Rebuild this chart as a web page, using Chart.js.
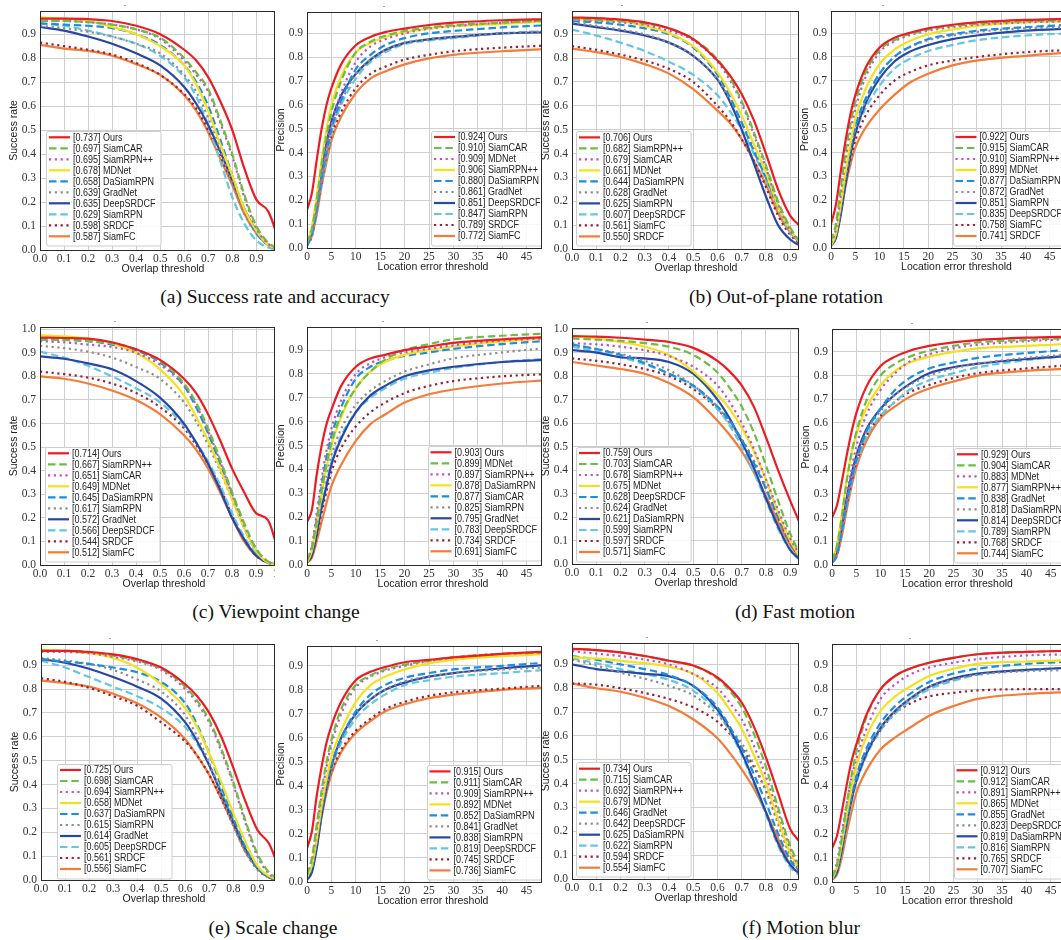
<!DOCTYPE html>
<html><head><meta charset="utf-8">
<script src="https://cdn.jsdelivr.net/npm/chart.js@4.4.1/dist/chart.umd.min.js"></script>
<style>
html,body{margin:0;padding:0;background:#fff;width:1061px;height:940px;overflow:hidden;position:relative}
.panel{position:absolute;overflow:hidden}
.panel canvas{position:absolute;left:0;top:0}
.cap{position:absolute;font-family:"Liberation Serif","Times New Roman",serif;font-size:19.5px;color:#111;white-space:nowrap;transform:translate(-50%,-50%)}
</style></head><body>
<script>
// ---------------- DATA ----------------
const successThresholds = [0,0.1,0.2,0.3,0.4,0.5,0.6,0.65,0.7,0.75,0.8,0.85,0.9,0.95,1.0];
const precisionThresholds = [0,1,2,3,4,5,7,10,13,16,20,25,30,40,50];
const successXTicks = [0,0.1,0.2,0.3,0.4,0.5,0.6,0.7,0.8,0.9,1.0];
const precisionXTicks = [0,5,10,15,20,25,30,35,40,45,50];
const yTicks = [0,0.1,0.2,0.3,0.4,0.5,0.6,0.7,0.8,0.9,1.0];

// (a) Success rate and accuracy
const aSRNames = ['Ours','SiamCAR','SiamRPN++','MDNet','DaSiamRPN','GradNet','DeepSRDCF','SiamRPN','SRDCF','SiamFC'];
const aSRScores = [0.737,0.697,0.695,0.678,0.658,0.639,0.635,0.629,0.598,0.587];
const aSRCurves = [
 [0.965,0.965,0.963,0.955,0.935,0.9,0.835,0.79,0.72,0.62,0.5,0.34,0.21,0.16,0.02],
 [0.955,0.955,0.95,0.94,0.92,0.885,0.8,0.74,0.67,0.54,0.4,0.23,0.1,0.03,0],
 [0.955,0.955,0.95,0.94,0.92,0.88,0.79,0.73,0.66,0.53,0.39,0.22,0.09,0.025,0],
 [0.97,0.965,0.955,0.93,0.9,0.85,0.77,0.69,0.58,0.44,0.31,0.17,0.08,0.02,0],
 [0.945,0.94,0.935,0.925,0.9,0.855,0.77,0.7,0.6,0.46,0.31,0.17,0.07,0.02,0],
 [0.935,0.925,0.91,0.89,0.86,0.82,0.73,0.66,0.55,0.42,0.28,0.15,0.07,0.02,0],
 [0.93,0.915,0.89,0.86,0.82,0.77,0.68,0.61,0.52,0.41,0.29,0.17,0.08,0.02,0],
 [0.945,0.935,0.915,0.89,0.86,0.81,0.72,0.64,0.52,0.37,0.22,0.11,0.04,0.01,0],
 [0.865,0.85,0.835,0.815,0.78,0.73,0.65,0.59,0.5,0.39,0.28,0.16,0.075,0.02,0],
 [0.855,0.84,0.83,0.81,0.775,0.73,0.645,0.58,0.49,0.38,0.27,0.15,0.07,0.02,0]
];
const aPRNames = ['Ours','SiamCAR','MDNet','SiamRPN++','DaSiamRPN','GradNet','DeepSRDCF','SiamRPN','SRDCF','SiamFC'];
const aPRScores = [0.924,0.910,0.909,0.906,0.880,0.861,0.851,0.847,0.789,0.772];
const aPRCurves = [
 [0.16,0.23,0.37,0.5,0.6,0.67,0.77,0.85,0.885,0.905,0.92,0.935,0.945,0.955,0.96],
 [0.02,0.08,0.2,0.35,0.47,0.57,0.7,0.82,0.865,0.89,0.91,0.925,0.935,0.945,0.955],
 [0.02,0.07,0.17,0.3,0.42,0.52,0.65,0.78,0.845,0.875,0.9,0.92,0.93,0.945,0.955],
 [0.02,0.09,0.22,0.37,0.5,0.6,0.72,0.82,0.86,0.885,0.905,0.92,0.93,0.94,0.95],
 [0.01,0.06,0.16,0.29,0.4,0.5,0.62,0.75,0.81,0.85,0.88,0.9,0.91,0.925,0.935],
 [0.01,0.06,0.16,0.28,0.39,0.49,0.61,0.73,0.79,0.83,0.86,0.875,0.885,0.9,0.91],
 [0.02,0.07,0.2,0.33,0.44,0.53,0.64,0.73,0.79,0.83,0.86,0.875,0.885,0.9,0.905],
 [0.01,0.05,0.15,0.27,0.38,0.48,0.6,0.71,0.78,0.82,0.855,0.87,0.88,0.9,0.91],
 [0.01,0.05,0.15,0.27,0.38,0.47,0.57,0.67,0.73,0.76,0.79,0.81,0.825,0.84,0.85],
 [0.01,0.05,0.14,0.26,0.36,0.45,0.55,0.65,0.71,0.74,0.77,0.795,0.81,0.825,0.835]
];

// (b) Out-of-plane rotation
const bSRNames = ['Ours','SiamRPN++','SiamCAR','MDNet','DaSiamRPN','GradNet','SiamRPN','DeepSRDCF','SiamFC','SRDCF'];
const bSRScores = [0.706,0.682,0.679,0.661,0.644,0.628,0.625,0.607,0.561,0.550];
const bSRCurves = [
 [0.97,0.968,0.962,0.95,0.925,0.88,0.79,0.73,0.65,0.54,0.4,0.25,0.14,0.085,0.01],
 [0.965,0.96,0.955,0.945,0.925,0.88,0.795,0.72,0.62,0.49,0.35,0.2,0.09,0.02,0],
 [0.96,0.955,0.95,0.94,0.915,0.875,0.785,0.71,0.61,0.48,0.34,0.19,0.08,0.02,0],
 [0.965,0.96,0.955,0.935,0.905,0.85,0.74,0.66,0.56,0.44,0.32,0.18,0.08,0.02,0],
 [0.955,0.95,0.94,0.925,0.9,0.845,0.73,0.64,0.53,0.41,0.3,0.18,0.08,0.02,0],
 [0.95,0.935,0.92,0.9,0.865,0.81,0.71,0.63,0.53,0.42,0.3,0.17,0.07,0.02,0],
 [0.945,0.93,0.915,0.895,0.865,0.81,0.71,0.62,0.5,0.36,0.22,0.1,0.04,0.01,0],
 [0.92,0.895,0.865,0.83,0.785,0.73,0.645,0.58,0.5,0.4,0.29,0.17,0.07,0.02,0],
 [0.85,0.835,0.815,0.79,0.755,0.7,0.6,0.54,0.46,0.37,0.26,0.14,0.06,0.015,0],
 [0.84,0.825,0.805,0.775,0.735,0.67,0.58,0.53,0.46,0.37,0.27,0.15,0.07,0.02,0]
];
const bPRNames = ['Ours','SiamCAR','SiamRPN++','MDNet','DaSiamRPN','GradNet','SiamRPN','DeepSRDCF','SiamFC','SRDCF'];
const bPRScores = [0.922,0.915,0.910,0.899,0.877,0.872,0.851,0.835,0.758,0.741];
const bPRCurves = [
 [0.1,0.18,0.32,0.45,0.56,0.64,0.75,0.84,0.88,0.9,0.92,0.935,0.945,0.955,0.96],
 [0.03,0.1,0.25,0.4,0.52,0.61,0.73,0.83,0.87,0.895,0.915,0.93,0.94,0.95,0.955],
 [0.02,0.08,0.22,0.37,0.49,0.58,0.71,0.82,0.865,0.89,0.91,0.925,0.935,0.945,0.95],
 [0.01,0.06,0.18,0.32,0.44,0.54,0.66,0.77,0.83,0.865,0.895,0.915,0.93,0.945,0.95],
 [0.01,0.05,0.17,0.3,0.42,0.51,0.62,0.73,0.8,0.84,0.875,0.895,0.91,0.925,0.935],
 [0.01,0.05,0.16,0.29,0.41,0.5,0.61,0.73,0.8,0.84,0.87,0.89,0.905,0.92,0.925],
 [0.01,0.04,0.14,0.27,0.39,0.48,0.6,0.71,0.78,0.82,0.85,0.875,0.89,0.91,0.92],
 [0.01,0.05,0.15,0.28,0.39,0.48,0.58,0.68,0.75,0.79,0.825,0.85,0.87,0.89,0.9],
 [0.01,0.05,0.15,0.27,0.37,0.45,0.55,0.64,0.7,0.735,0.765,0.785,0.8,0.82,0.83],
 [0.01,0.05,0.14,0.26,0.35,0.42,0.5,0.58,0.64,0.69,0.73,0.765,0.785,0.805,0.82]
];

// (c) Viewpoint change
const cSRNames = ['Ours','SiamRPN++','SiamCAR','MDNet','DaSiamRPN','SiamRPN','GradNet','DeepSRDCF','SRDCF','SiamFC'];
const cSRScores = [0.714,0.667,0.651,0.649,0.645,0.617,0.572,0.566,0.544,0.512];
const cSRCurves = [
 [0.965,0.963,0.96,0.945,0.915,0.87,0.79,0.73,0.64,0.53,0.41,0.31,0.22,0.19,0.03],
 [0.955,0.955,0.95,0.94,0.915,0.865,0.77,0.69,0.58,0.45,0.31,0.18,0.07,0.015,0],
 [0.95,0.945,0.935,0.925,0.9,0.85,0.76,0.68,0.57,0.44,0.3,0.17,0.07,0.015,0],
 [0.975,0.97,0.96,0.94,0.9,0.83,0.72,0.63,0.53,0.41,0.28,0.16,0.06,0.01,0],
 [0.96,0.955,0.95,0.935,0.91,0.86,0.76,0.67,0.56,0.43,0.3,0.16,0.06,0.01,0],
 [0.93,0.92,0.905,0.88,0.84,0.79,0.69,0.61,0.51,0.4,0.28,0.16,0.06,0.01,0],
 [0.885,0.875,0.855,0.83,0.78,0.71,0.6,0.52,0.43,0.32,0.2,0.11,0.04,0.01,0],
 [0.905,0.88,0.845,0.8,0.75,0.69,0.59,0.52,0.44,0.34,0.22,0.12,0.05,0.01,0],
 [0.82,0.81,0.795,0.77,0.73,0.67,0.58,0.51,0.43,0.33,0.21,0.11,0.04,0.01,0],
 [0.8,0.79,0.77,0.74,0.7,0.64,0.55,0.49,0.41,0.31,0.2,0.1,0.04,0.01,0]
];
const cPRNames = ['Ours','MDNet','SiamRPN++','DaSiamRPN','SiamCAR','SiamRPN','GradNet','DeepSRDCF','SRDCF','SiamFC'];
const cPRScores = [0.903,0.899,0.897,0.878,0.877,0.825,0.795,0.783,0.734,0.691];
const cPRCurves = [
 [0.18,0.23,0.38,0.5,0.59,0.65,0.75,0.83,0.865,0.88,0.9,0.915,0.93,0.945,0.955],
 [0.02,0.07,0.18,0.31,0.42,0.51,0.63,0.74,0.81,0.86,0.9,0.925,0.945,0.96,0.97],
 [0.02,0.08,0.22,0.36,0.48,0.57,0.69,0.8,0.845,0.87,0.89,0.905,0.92,0.94,0.95],
 [0.01,0.06,0.17,0.3,0.41,0.5,0.62,0.74,0.81,0.85,0.88,0.9,0.915,0.935,0.95],
 [0.02,0.07,0.19,0.33,0.45,0.54,0.66,0.78,0.83,0.855,0.875,0.89,0.905,0.925,0.94],
 [0.01,0.06,0.16,0.28,0.38,0.46,0.57,0.67,0.73,0.77,0.81,0.84,0.865,0.89,0.91],
 [0.01,0.04,0.13,0.24,0.33,0.42,0.53,0.64,0.71,0.75,0.79,0.815,0.83,0.85,0.86],
 [0.01,0.05,0.14,0.25,0.34,0.43,0.54,0.64,0.7,0.74,0.78,0.805,0.825,0.85,0.865],
 [0.01,0.04,0.12,0.22,0.31,0.39,0.49,0.58,0.64,0.68,0.72,0.75,0.77,0.79,0.8],
 [0.01,0.03,0.1,0.18,0.26,0.33,0.42,0.52,0.59,0.63,0.68,0.715,0.735,0.76,0.775]
];

// (d) Fast motion
const dSRNames = ['Ours','SiamCAR','SiamRPN++','MDNet','DeepSRDCF','GradNet','DaSiamRPN','SiamRPN','SRDCF','SiamFC'];
const dSRScores = [0.759,0.703,0.678,0.675,0.628,0.624,0.621,0.599,0.597,0.571];
const dSRCurves = [
 [0.97,0.968,0.963,0.955,0.945,0.92,0.865,0.82,0.76,0.67,0.54,0.4,0.27,0.15,0.03],
 [0.96,0.955,0.95,0.94,0.925,0.89,0.815,0.75,0.67,0.56,0.42,0.27,0.13,0.03,0],
 [0.94,0.935,0.925,0.91,0.885,0.84,0.76,0.69,0.6,0.49,0.36,0.23,0.11,0.03,0],
 [0.97,0.96,0.945,0.925,0.89,0.82,0.72,0.66,0.58,0.48,0.36,0.22,0.1,0.02,0],
 [0.935,0.915,0.89,0.855,0.81,0.76,0.67,0.61,0.53,0.43,0.32,0.2,0.09,0.02,0],
 [0.93,0.915,0.895,0.865,0.825,0.76,0.67,0.6,0.53,0.44,0.33,0.21,0.1,0.02,0],
 [0.91,0.9,0.88,0.875,0.86,0.81,0.7,0.62,0.52,0.41,0.28,0.16,0.06,0.015,0],
 [0.925,0.905,0.88,0.85,0.81,0.755,0.66,0.59,0.5,0.39,0.27,0.15,0.06,0.01,0],
 [0.875,0.865,0.85,0.83,0.8,0.745,0.66,0.6,0.53,0.44,0.32,0.2,0.09,0.02,0],
 [0.86,0.845,0.83,0.81,0.77,0.71,0.61,0.55,0.48,0.39,0.29,0.18,0.08,0.02,0]
];
const dPRNames = ['Ours','SiamCAR','MDNet','SiamRPN++','GradNet','DaSiamRPN','DeepSRDCF','SiamRPN','SRDCF','SiamFC'];
const dPRScores = [0.929,0.904,0.883,0.877,0.838,0.818,0.814,0.789,0.768,0.744];
const dPRCurves = [
 [0.2,0.25,0.35,0.46,0.56,0.64,0.75,0.84,0.88,0.905,0.925,0.94,0.95,0.96,0.965],
 [0.02,0.08,0.2,0.35,0.47,0.56,0.69,0.8,0.85,0.88,0.905,0.925,0.94,0.95,0.96],
 [0.01,0.06,0.16,0.29,0.4,0.5,0.63,0.74,0.81,0.86,0.89,0.915,0.93,0.945,0.955],
 [0.02,0.08,0.21,0.36,0.47,0.55,0.66,0.76,0.82,0.855,0.88,0.9,0.915,0.925,0.935],
 [0.01,0.04,0.14,0.26,0.36,0.44,0.56,0.66,0.74,0.79,0.83,0.855,0.875,0.895,0.91],
 [0.01,0.05,0.15,0.27,0.37,0.45,0.56,0.65,0.72,0.76,0.8,0.83,0.85,0.875,0.89],
 [0.02,0.06,0.16,0.28,0.38,0.46,0.57,0.66,0.72,0.765,0.81,0.835,0.85,0.87,0.885],
 [0.01,0.04,0.13,0.25,0.35,0.43,0.54,0.63,0.69,0.74,0.78,0.81,0.835,0.865,0.885],
 [0.01,0.04,0.14,0.25,0.35,0.43,0.54,0.63,0.69,0.73,0.76,0.79,0.81,0.83,0.845],
 [0.01,0.04,0.12,0.23,0.33,0.41,0.52,0.62,0.67,0.71,0.745,0.775,0.8,0.82,0.83]
];

// (e) Scale change
const eSRNames = ['Ours','SiamCAR','SiamRPN++','MDNet','DaSiamRPN','SiamRPN','GradNet','DeepSRDCF','SRDCF','SiamFC'];
const eSRScores = [0.725,0.698,0.694,0.658,0.637,0.615,0.614,0.605,0.561,0.556];
const eSRCurves = [
 [0.96,0.96,0.955,0.945,0.925,0.89,0.82,0.77,0.7,0.6,0.47,0.33,0.21,0.15,0.02],
 [0.96,0.96,0.955,0.94,0.92,0.885,0.81,0.75,0.67,0.55,0.41,0.25,0.11,0.03,0],
 [0.955,0.955,0.95,0.935,0.915,0.88,0.8,0.74,0.66,0.54,0.4,0.24,0.1,0.025,0],
 [0.965,0.96,0.95,0.93,0.89,0.82,0.72,0.64,0.53,0.41,0.28,0.16,0.06,0.015,0],
 [0.925,0.915,0.905,0.89,0.87,0.83,0.74,0.65,0.53,0.39,0.26,0.14,0.05,0.01,0],
 [0.93,0.92,0.905,0.88,0.84,0.79,0.69,0.6,0.49,0.36,0.23,0.12,0.045,0.01,0],
 [0.925,0.91,0.885,0.85,0.81,0.76,0.66,0.58,0.48,0.36,0.24,0.13,0.05,0.01,0],
 [0.92,0.89,0.85,0.81,0.77,0.72,0.64,0.57,0.48,0.37,0.25,0.13,0.05,0.01,0],
 [0.845,0.83,0.805,0.77,0.73,0.66,0.58,0.52,0.44,0.34,0.23,0.12,0.045,0.01,0],
 [0.835,0.825,0.81,0.78,0.74,0.68,0.59,0.52,0.44,0.34,0.23,0.12,0.05,0.01,0]
];
const ePRNames = ['Ours','SiamCAR','SiamRPN++','MDNet','DaSiamRPN','GradNet','SiamRPN','DeepSRDCF','SRDCF','SiamFC'];
const ePRScores = [0.915,0.911,0.909,0.892,0.852,0.841,0.838,0.819,0.745,0.736];
const ePRCurves = [
 [0.14,0.21,0.36,0.48,0.58,0.65,0.75,0.84,0.875,0.895,0.915,0.925,0.935,0.95,0.96],
 [0.03,0.1,0.24,0.38,0.5,0.59,0.72,0.82,0.86,0.885,0.905,0.92,0.935,0.95,0.955],
 [0.03,0.09,0.22,0.36,0.48,0.57,0.7,0.81,0.855,0.88,0.9,0.92,0.935,0.95,0.955],
 [0.02,0.07,0.18,0.32,0.43,0.52,0.63,0.75,0.82,0.855,0.885,0.91,0.925,0.94,0.95],
 [0.02,0.06,0.17,0.3,0.41,0.49,0.6,0.71,0.78,0.82,0.85,0.87,0.885,0.9,0.915],
 [0.02,0.06,0.17,0.3,0.4,0.48,0.59,0.7,0.76,0.8,0.835,0.855,0.87,0.885,0.895],
 [0.01,0.04,0.14,0.28,0.39,0.48,0.6,0.7,0.76,0.8,0.83,0.855,0.87,0.89,0.905],
 [0.01,0.05,0.15,0.28,0.39,0.47,0.58,0.68,0.74,0.78,0.82,0.84,0.855,0.87,0.885],
 [0.02,0.06,0.16,0.29,0.39,0.46,0.55,0.63,0.68,0.72,0.75,0.775,0.79,0.805,0.82],
 [0.01,0.05,0.15,0.27,0.37,0.45,0.54,0.62,0.67,0.71,0.74,0.765,0.78,0.8,0.81]
];

// (f) Motion blur
const fSRNames = ['Ours','SiamCAR','SiamRPN++','MDNet','GradNet','DeepSRDCF','DaSiamRPN','SiamRPN','SRDCF','SiamFC'];
const fSRScores = [0.734,0.715,0.692,0.679,0.646,0.642,0.625,0.622,0.594,0.554];
const fSRCurves = [
 [0.965,0.96,0.95,0.935,0.915,0.895,0.845,0.8,0.74,0.64,0.51,0.36,0.21,0.14,0.02],
 [0.965,0.96,0.95,0.935,0.915,0.895,0.84,0.79,0.72,0.61,0.47,0.3,0.14,0.04,0],
 [0.955,0.945,0.935,0.92,0.9,0.86,0.8,0.74,0.67,0.56,0.43,0.28,0.13,0.03,0],
 [0.93,0.925,0.915,0.905,0.89,0.86,0.78,0.71,0.63,0.52,0.4,0.25,0.11,0.03,0],
 [0.935,0.92,0.9,0.88,0.855,0.81,0.72,0.64,0.55,0.44,0.32,0.19,0.08,0.02,0],
 [0.92,0.895,0.865,0.84,0.81,0.77,0.69,0.63,0.57,0.48,0.37,0.23,0.1,0.025,0],
 [0.9,0.88,0.87,0.86,0.85,0.81,0.71,0.63,0.53,0.41,0.28,0.15,0.06,0.015,0],
 [0.925,0.905,0.88,0.86,0.835,0.79,0.7,0.62,0.52,0.4,0.27,0.14,0.05,0.01,0],
 [0.82,0.815,0.8,0.78,0.755,0.72,0.66,0.61,0.55,0.47,0.37,0.24,0.1,0.02,0],
 [0.82,0.8,0.785,0.76,0.725,0.67,0.59,0.53,0.46,0.38,0.28,0.17,0.06,0.015,0]
];
const fPRNames = ['Ours','SiamCAR','SiamRPN++','MDNet','GradNet','DeepSRDCF','DaSiamRPN','SiamRPN','SRDCF','SiamFC'];
const fPRScores = [0.912,0.912,0.891,0.865,0.855,0.823,0.819,0.816,0.765,0.707];
const fPRCurves = [
 [0.14,0.19,0.29,0.4,0.5,0.57,0.69,0.8,0.855,0.885,0.91,0.93,0.945,0.955,0.96],
 [0.02,0.07,0.18,0.32,0.44,0.54,0.68,0.8,0.855,0.885,0.91,0.93,0.945,0.955,0.96],
 [0.02,0.08,0.2,0.32,0.43,0.51,0.63,0.76,0.82,0.86,0.89,0.91,0.925,0.94,0.945],
 [0.01,0.06,0.16,0.28,0.39,0.48,0.6,0.71,0.77,0.81,0.855,0.885,0.905,0.915,0.92],
 [0.01,0.05,0.15,0.26,0.36,0.44,0.55,0.66,0.73,0.78,0.83,0.865,0.885,0.905,0.915],
 [0.01,0.05,0.14,0.25,0.35,0.43,0.54,0.64,0.71,0.76,0.81,0.84,0.86,0.875,0.88],
 [0.01,0.04,0.13,0.24,0.34,0.42,0.53,0.64,0.71,0.76,0.81,0.845,0.865,0.88,0.89],
 [0.01,0.04,0.12,0.23,0.33,0.41,0.52,0.63,0.7,0.75,0.8,0.835,0.86,0.88,0.89],
 [0.01,0.05,0.14,0.25,0.34,0.42,0.53,0.63,0.7,0.74,0.77,0.785,0.795,0.8,0.8],
 [0.01,0.03,0.1,0.2,0.29,0.37,0.46,0.55,0.6,0.64,0.69,0.73,0.76,0.78,0.79]
];

const captions = ['(a) Success rate and accuracy','(b) Out-of-plane rotation','(c) Viewpoint change','(d) Fast motion','(e) Scale change','(f) Motion blur'];

// ---------------- STYLE (by legend rank) ----------------
const rankColors = ['#ec1c24','#6cbd45','#c24fc6','#f3e21b','#1b8ee0','#8d8d8d','#2747a6','#62c6e4','#9e1f33','#f47b38'];
const DASH = [7.5,3.8], DOT = [2.2,3.6];
const rankDash = [[],DASH,DOT,[],DASH,DOT,[],DASH,DOT,[]];
const LW = 2.2;

// ---------------- LAYOUT ----------------
// ppu = pixels spanned by the full range (1.0 for success, 50 for precision)
const panels = [
 {kind:'s',names:aSRNames,scores:aSRScores,curves:aSRCurves,L:40,T:10,B:250,xmax:0.99,ymax:0.997,ppu:240,crop:275,legX:6,legB:112.7,dot:85},
 {kind:'p',names:aPRNames,scores:aPRScores,curves:aPRCurves,L:307,T:11,B:248,xmax:50,ymax:0.99,ppu:243.8,crop:542,legX:124,legB:111,dot:77},
 {kind:'s',names:bSRNames,scores:bSRScores,curves:bSRCurves,L:572,T:10,B:249,xmax:0.99,ymax:0.998,ppu:242.6,crop:799,legX:4,legB:111.6,dot:50},
 {kind:'p',names:bPRNames,scores:bPRScores,curves:bPRCurves,L:831,T:10,B:248,xmax:50,ymax:0.993,ppu:243,crop:1061,legX:121.5,legB:111,dot:52},
 {kind:'s',names:cSRNames,scores:cSRScores,curves:cSRCurves,L:40,T:326,B:565,xmax:1.0,ymax:1.01,ppu:240,crop:275,legX:5,legB:111.7,dot:75},
 {kind:'p',names:cPRNames,scores:cPRScores,curves:cPRCurves,L:307,T:326,B:565,xmax:50,ymax:0.997,ppu:243.8,crop:542,legX:120.5,legB:112.7,dot:76},
 {kind:'s',names:dSRNames,scores:dSRScores,curves:dSRCurves,L:572,T:327,B:564,xmax:0.99,ymax:1.005,ppu:242.6,crop:799,legX:4,legB:111,dot:75},
 {kind:'p',names:dPRNames,scores:dPRScores,curves:dPRCurves,L:832,T:328,B:565,xmax:50,ymax:0.997,ppu:243,crop:1061,legX:122,legB:110.7,dot:80},
 {kind:'s',names:eSRNames,scores:eSRScores,curves:eSRCurves,L:41,T:643,B:880,xmax:0.99,ymax:0.989,ppu:240,crop:275,legX:16,legB:110,dot:69},
 {kind:'p',names:ePRNames,scores:ePRScores,curves:ePRCurves,L:307,T:645,B:882,xmax:50,ymax:0.983,ppu:243.8,crop:542,legX:119.5,legB:110.6,dot:70},
 {kind:'s',names:fSRNames,scores:fSRScores,curves:fSRCurves,L:572,T:642,B:879,xmax:0.99,ymax:0.99,ppu:242.6,crop:799,legX:4,legB:110.3,dot:75},
 {kind:'p',names:fPRNames,scores:fPRScores,curves:fPRCurves,L:832,T:643,B:882,xmax:50,ymax:0.988,ppu:243,crop:1061,legX:121.5,legB:111.7,dot:78}
];
const capPos = [[275,297],[786,297],[276,612],[795,612],[273,928],[801,928]];

const TICK_FONT = {family:'"Liberation Serif","Times New Roman",serif', size:11.5};
const LEG_FONT = '10px "Liberation Sans", Arial, sans-serif';
const TITLE_FONT = '10.5px "Liberation Sans", Arial, sans-serif';

function drawLegend(ctx, a, p) {
  ctx.save();
  ctx.beginPath(); ctx.rect(a.left, a.top, a.right - a.left, a.bottom - a.top); ctx.clip();
  ctx.font = LEG_FONT;
  const sx = 0.9, step = 11;
  const labels = p.names.map((n, i) => '[' + p.scores[i].toFixed(3) + '] ' + n);
  const tw = Math.max(...labels.map(l => ctx.measureText(l).width)) * sx;
  const bx = a.left + p.legX, firstY = a.bottom - p.legB;
  const by = firstY - 6.5, bh = step * 9 + 15.5, bw = 27 + tw + 5;
  ctx.fillStyle = 'rgba(255,255,255,0.85)';
  ctx.strokeStyle = '#cccccc'; ctx.lineWidth = 1;
  ctx.beginPath();
  if (ctx.roundRect) ctx.roundRect(Math.round(bx) + 0.5, Math.round(by) + 0.5, bw, bh, 2); else ctx.rect(Math.round(bx) + 0.5, Math.round(by) + 0.5, bw, bh);
  ctx.fill(); ctx.stroke();
  labels.forEach((lab, i) => {
    const y = firstY + i * step;
    ctx.save();
    ctx.strokeStyle = rankColors[i]; ctx.lineWidth = LW; ctx.setLineDash(rankDash[i]);
    ctx.beginPath(); ctx.moveTo(bx + 3, y); ctx.lineTo(bx + 24, y); ctx.stroke();
    ctx.restore();
    ctx.save();
    ctx.fillStyle = '#222'; ctx.textBaseline = 'middle'; ctx.textAlign = 'left';
    ctx.translate(bx + 27, y + 0.5); ctx.scale(sx, 1);
    ctx.fillText(lab, 0, 0);
    ctx.restore();
  });
  ctx.restore();
}

const panelPlugin = {
  id: 'panelDeco',
  afterDraw(chart) {
    const p = chart.$panel; const ctx = chart.ctx; const a = chart.chartArea;
    drawLegend(ctx, a, p);
    ctx.save();
    ctx.strokeStyle = '#2a2a2a'; ctx.lineWidth = 1;
    ctx.strokeRect(Math.round(a.left) + 0.5, Math.round(a.top) + 0.5, Math.round(a.right - a.left), Math.round(a.bottom - a.top));
    // edge of the cropped figure
    const cl = p.L - 40;
    if (p.crop < 1061 && p.crop - cl < chart.width) {
      const ex = p.crop - cl - 0.5;
      ctx.beginPath(); ctx.moveTo(ex, Math.round(a.top)); ctx.lineTo(ex, Math.round(a.bottom) + 1); ctx.stroke();
    }
    ctx.fillStyle = '#222'; ctx.font = TITLE_FONT; ctx.textAlign = 'center'; ctx.textBaseline = 'middle';
    ctx.fillText(p.kind === 's' ? 'Overlap threshold' : 'Location error threshold', (a.left + a.right) / 2 + 4, a.bottom + 19);
    ctx.fillStyle = '#333'; ctx.font = '9px "Liberation Sans", Arial, sans-serif';
    ctx.fillText('.', a.left + p.dot, a.top - 7);
    ctx.fillStyle = '#222'; ctx.font = TITLE_FONT;
    ctx.translate(a.left - 25.5, (a.top + a.bottom) / 2); ctx.rotate(-Math.PI / 2);
    ctx.fillText(p.kind === 's' ? 'Success rate' : 'Precision', 0, 0);
    ctx.restore();
  }
};

function makePanel(p) {
  const cl = p.L - 40, ct = p.T - 10;
  const fullRange = p.kind === 's' ? 1 : 50;
  const axW = p.xmax / fullRange * p.ppu;
  const cw = Math.round(40 + axW + 20), ch = (p.B - p.T) + 10 + 35;
  const div = document.createElement('div'); div.className = 'panel';
  div.style.left = cl + 'px'; div.style.top = ct + 'px';
  div.style.width = Math.min(cw, p.crop - cl) + 'px'; div.style.height = ch + 'px';
  const cv = document.createElement('canvas');
  cv.width = cw; cv.height = ch; cv.style.width = cw + 'px'; cv.style.height = ch + 'px';
  div.appendChild(cv); document.body.appendChild(div);
  const xs = p.kind === 's' ? successThresholds : precisionThresholds;
  const xTicks = p.kind === 's' ? successXTicks : precisionXTicks;
  const datasets = p.curves.map((vals, i) => ({
    label: p.names[i],
    data: xs.map((x, k) => ({x: x, y: vals[k]})),
    borderColor: rankColors[i], borderWidth: LW, borderDash: rankDash[i],
    pointRadius: 0, fill: false, cubicInterpolationMode: 'monotone'
  }));
  return new Chart(cv, {
    type: 'line',
    data: {datasets},
    options: {
      responsive: false, animation: false, devicePixelRatio: 1,
      layout: {padding: {left: 0, right: 20, top: 10, bottom: 0}},
      plugins: {legend: {display: false}, tooltip: {enabled: false}},
      scales: {
        x: {
          type: 'linear', min: 0, max: p.xmax,
          afterFit: s => { s.height = 35; },
          afterBuildTicks: s => { s.ticks = xTicks.filter(v => v <= p.xmax + 1e-9).map(v => ({value: v})); },
          ticks: {font: TICK_FONT, color: '#333', padding: 2, maxRotation: 0, autoSkip: false,
                  callback: v => p.kind === 's' ? Number(v).toFixed(1) : String(Math.round(v))},
          grid: {color: '#cfcfcf', lineWidth: 1, drawTicks: false},
          border: {display: false}
        },
        y: {
          type: 'linear', min: 0, max: p.ymax,
          afterFit: s => { s.width = 40; },
          afterBuildTicks: s => { s.ticks = yTicks.filter(v => v <= p.ymax + 1e-9).map(v => ({value: v})); },
          ticks: {font: TICK_FONT, color: '#333', padding: 4, autoSkip: false,
                  callback: v => Number(v).toFixed(1)},
          grid: {color: '#cfcfcf', lineWidth: 1, drawTicks: false},
          border: {display: false}
        }
      }
    },
    plugins: [{id: 'bind', beforeInit(c) { c.$panel = p; }}, panelPlugin]
  });
}

panels.forEach(makePanel);
captions.forEach((t, i) => {
  const d = document.createElement('div'); d.className = 'cap'; d.textContent = t;
  d.style.left = capPos[i][0] + 'px'; d.style.top = capPos[i][1] + 'px';
  document.body.appendChild(d);
});
</script>
</body></html>
